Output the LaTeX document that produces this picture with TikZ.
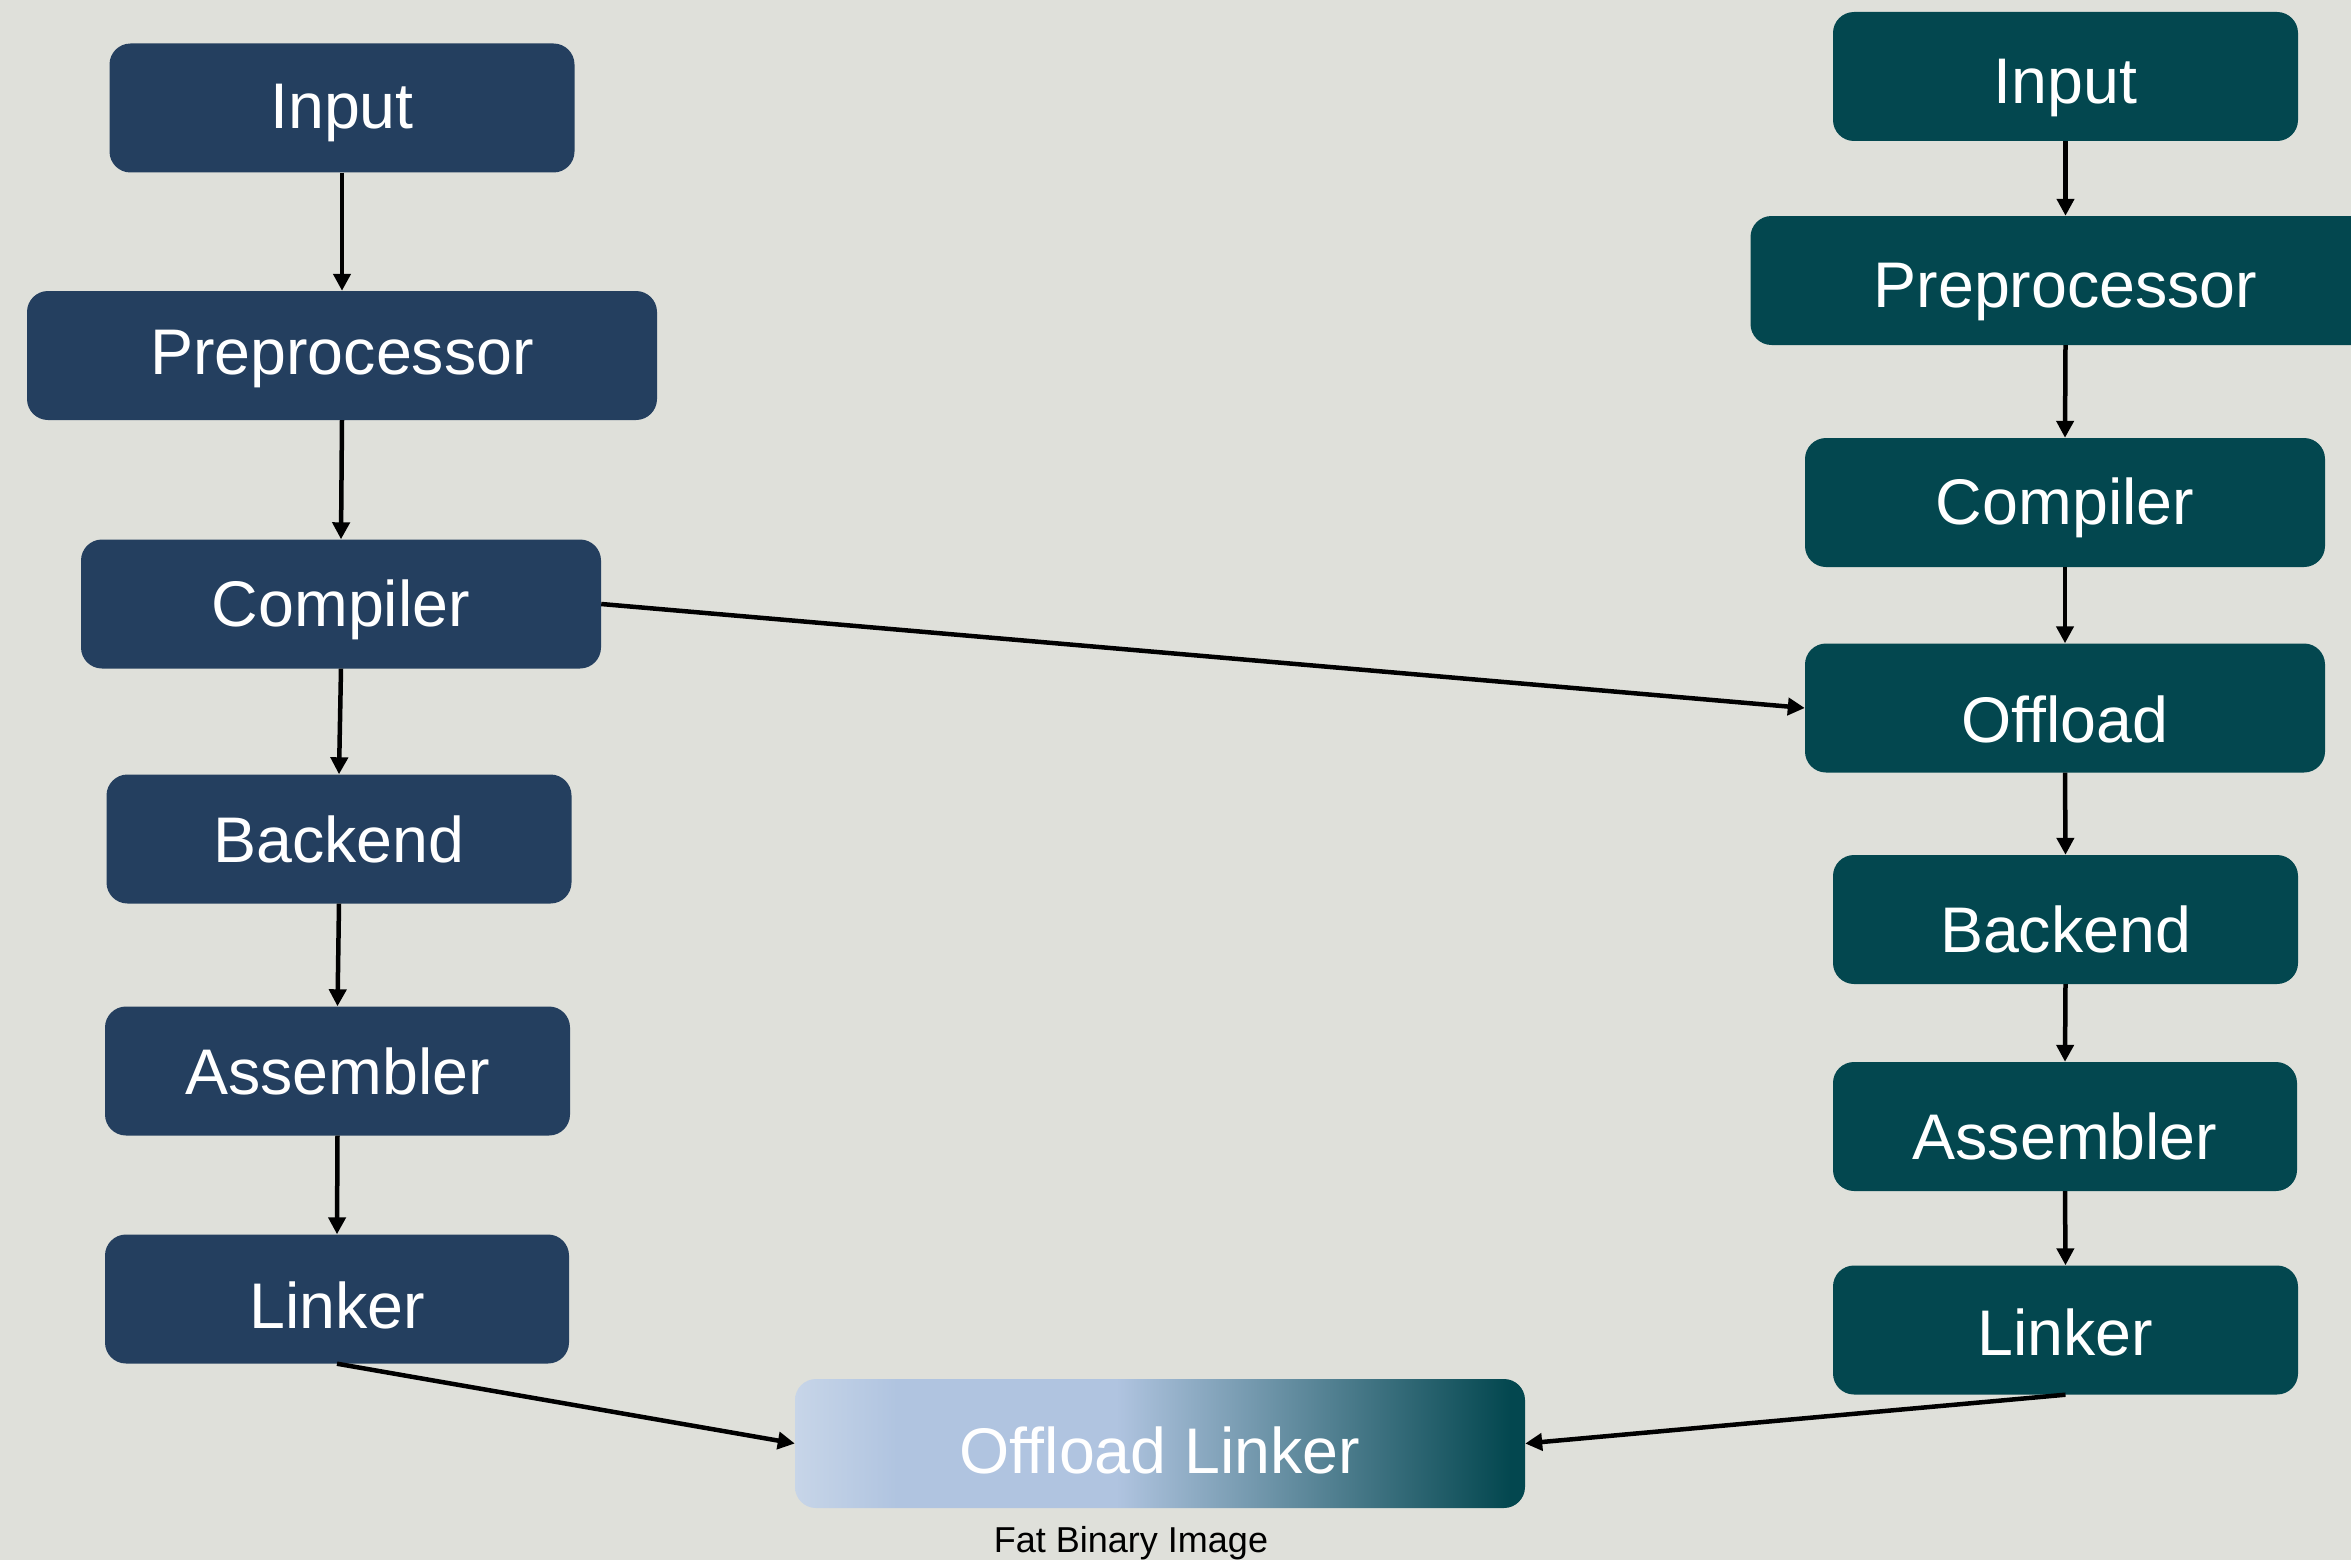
\documentclass[tikz,border=0pt]{standalone}
\usepackage{fontspec}
\setmainfont{Liberation Sans}
\usetikzlibrary{arrows.meta}
\definecolor{bgcol}{HTML}{DFE0DA}
\definecolor{hostcol}{HTML}{243F5F}
\definecolor{devcol}{HTML}{03474F}
\definecolor{fatA}{HTML}{C7D5E8}
\definecolor{fatB}{HTML}{B0C4E0}
% light blue on the left fading into the device teal on the right
\pgfdeclarehorizontalshading{fatlink}{100bp}{color(0bp)=(fatA); color(25bp)=(fatA); color(32bp)=(fatB); color(47bp)=(fatB); color(74bp)=(devcol); color(100bp)=(devcol)}
\begin{document}
\begin{tikzpicture}[x=1pt,y=-1pt,
  box/.style={rounded corners=21pt, text=white, font=\fontsize{64.5}{70}\selectfont,
    minimum height=129pt, inner sep=0pt, text depth=0pt, text height=50pt},
  hostbox/.style={box, fill=hostcol},
  devbox/.style={box, fill=devcol},
  flow/.style={-{Triangle[length=17pt,width=17pt]}, line width=4.5pt, black}]
\fill[bgcol] (0,0) rectangle (2351,1560);
\useasboundingbox (0,0) rectangle (2351,1560);

% host compilation chain
\node[hostbox, minimum width=465pt, text height=41pt] (hin)   at (342,108)    {Input};
\node[hostbox, minimum width=630pt, text height=38pt] (hpre)  at (342,355.5)  {Preprocessor};
\node[hostbox, minimum width=520pt, text height=45pt] (hcomp) at (341,604)    {Compiler};
\node[hostbox, minimum width=465pt, text height=46pt] (hback) at (339,839)    {Backend};
\node[hostbox, minimum width=465pt, text height=46pt] (hasm)  at (337.5,1071) {Assembler};
\node[hostbox, minimum width=464pt, text height=58pt] (hlink) at (337,1299)   {Linker};

% device compilation chain
\node[devbox, minimum width=465pt, text height=54pt] (din)   at (2065.5,76.5)  {Input};
\node[devbox, minimum width=630pt, text height=54pt] (dpre)  at (2065.5,280.5) {Preprocessor};
\node[devbox, minimum width=520pt, text height=44pt] (dcomp) at (2065,502.5)   {Compiler};
\node[devbox, minimum width=520pt, text height=69pt] (doff)  at (2065,708)     {Offload};
\node[devbox, minimum width=465pt, text height=65pt] (dback) at (2065.5,919.5) {Backend};
\node[devbox, minimum width=464pt, text height=66pt] (dasm)  at (2065,1126.5)  {Assembler};
\node[devbox, minimum width=465pt, text height=50pt] (dlink) at (2065.5,1330)  {Linker};

% final link step
\node[box, shade, shading=fatlink, minimum width=730pt, text height=60pt] (fat) at (1160,1443.5) {Offload Linker};
\node[font=\fontsize{36}{40}\selectfont, inner sep=0pt, anchor=base] (cap) at (1131,1552) {Fat Binary Image};

\draw[flow] (hin.south) -- (hpre.north);
\draw[flow] (hpre.south) -- (hcomp.north);
\draw[flow] (hcomp.south) -- (hback.north);
\draw[flow] (hback.south) -- (hasm.north);
\draw[flow] (hasm.south) -- (hlink.north);

\draw[flow] (din.south) -- (dpre.north);
\draw[flow] (dpre.south) -- (dcomp.north);
\draw[flow] (dcomp.south) -- (doff.north);
\draw[flow] (doff.south) -- (dback.north);
\draw[flow] (dback.south) -- (dasm.north);
\draw[flow] (dasm.south) -- (dlink.north);

\draw[flow] (hcomp.east) -- (doff.west);
\draw[flow] (hlink.south) -- (fat.west);
\draw[flow] (dlink.south) -- (fat.east);
\end{tikzpicture}
\end{document}
